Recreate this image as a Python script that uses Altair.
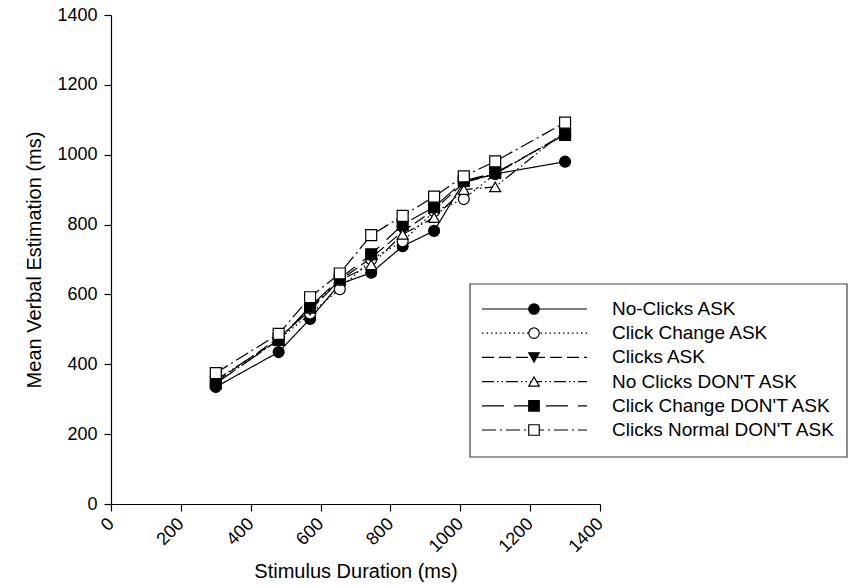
import altair as alt
import pandas as pd

# Stimulus durations (ms) shared by every condition
durations = [300, 480, 570, 655, 745, 835, 925, 1010, 1100, 1300]

series_names = [
    "No-Clicks ASK",
    "Click Change ASK",
    "Clicks ASK",
    "No Clicks DON'T ASK",
    "Click Change DON'T ASK",
    "Clicks Normal DON'T ASK",
]

# Mean verbal estimation (ms) per condition
no_clicks_ask = [335, 435, 530, 630, 662, 738, 782, 922, 945, 980]
click_change_ask = [345, 470, 545, 615, 700, 752, 838, 873, 945, 1060]
clicks_ask = [350, 475, 555, 640, 705, 780, 842, 920, 945, 1060]
no_clicks_dont_ask = [355, 470, 560, 640, 685, 772, 820, 900, 908, 1068]
click_change_dont_ask = [345, 470, 565, 645, 715, 800, 850, 925, 948, 1057]
clicks_normal_dont_ask = [375, 487, 592, 660, 770, 825, 880, 938, 981, 1092]

series_values = [
    no_clicks_ask,
    click_change_ask,
    clicks_ask,
    no_clicks_dont_ask,
    click_change_dont_ask,
    clicks_normal_dont_ask,
]

# Styling per condition
dashes = [[1, 0], [1.5, 3], [12, 5], [12, 3, 1.5, 3, 1.5, 3], [22, 10], [14, 4, 2, 4]]
shapes = ["circle", "circle", "triangle-down", "triangle-up", "square", "square"]
fills = ["black", "white", "black", "white", "black", "white"]

FONT = "Liberation Sans"
W = H = 489
XMAX = YMAX = 1400

rows = []
for name, vals in zip(series_names, series_values):
    for d, v in zip(durations, vals):
        rows.append({"series": name, "duration": d, "estimate": v})
df = pd.DataFrame(rows)

dash_scale = alt.Scale(domain=series_names, range=dashes)
shape_scale = alt.Scale(domain=series_names, range=shapes)
fill_scale = alt.Scale(domain=series_names, range=fills)

x_enc = alt.X(
    "duration:Q",
    scale=alt.Scale(domain=[0, XMAX], nice=False),
    axis=alt.Axis(
        title="Stimulus Duration (ms)",
        values=list(range(0, 1401, 200)),
        format="d",
        labelAngle=-45,
        labelAlign="right",
        labelBaseline="middle",
        labelPadding=10,
        titlePadding=6,
    ),
)
y_enc = alt.Y(
    "estimate:Q",
    scale=alt.Scale(domain=[0, YMAX], nice=False),
    axis=alt.Axis(
        title="Mean Verbal Estimation (ms)",
        values=list(range(0, 1401, 200)),
        format="d",
        labelPadding=7,
        titlePadding=12,
    ),
)

lines = alt.Chart(df).mark_line(color="black", strokeWidth=1.2).encode(
    x=x_enc,
    y=y_enc,
    detail="series:N",
    strokeDash=alt.StrokeDash("series:N", scale=dash_scale, legend=None),
)

points = alt.Chart(df).mark_point(
    stroke="black", strokeWidth=1.2, size=120, opacity=1, filled=False
).encode(
    x="duration:Q",
    y="estimate:Q",
    shape=alt.Shape("series:N", scale=shape_scale, legend=None),
    fill=alt.Fill("series:N", scale=fill_scale, legend=None),
)

# Hand-built legend box, laid out in pixels and converted to data units
def px_x(p):
    return (p - 111) / W * XMAX


def px_y(p):
    return (504 - p) / H * YMAX


box = pd.DataFrame(
    [{"x1": px_x(470), "x2": px_x(847), "y1": px_y(284), "y2": px_y(457)}]
)
legend_box = alt.Chart(box).mark_rect(
    fill="white", stroke="#404040", strokeWidth=1.2
).encode(x="x1:Q", x2="x2:Q", y="y1:Q", y2="y2:Q")

row_top = 309
row_step = 24.2
leg_rows = []
leg_lines = []
for i, name in enumerate(series_names):
    cy = px_y(row_top + i * row_step)
    leg_rows.append(
        {"series": name, "mx": px_x(534), "tx": px_x(612), "y": cy}
    )
    leg_lines.append({"series": name, "x": px_x(482), "y": cy})
    leg_lines.append({"series": name, "x": px_x(587), "y": cy})
leg_rows = pd.DataFrame(leg_rows)
leg_lines = pd.DataFrame(leg_lines)

legend_lines = alt.Chart(leg_lines).mark_line(color="black", strokeWidth=1.2).encode(
    x="x:Q",
    y="y:Q",
    detail="series:N",
    strokeDash=alt.StrokeDash("series:N", scale=dash_scale, legend=None),
)
legend_marks = alt.Chart(leg_rows).mark_point(
    stroke="black", strokeWidth=1.2, size=110, opacity=1
).encode(
    x="mx:Q",
    y="y:Q",
    shape=alt.Shape("series:N", scale=shape_scale, legend=None),
    fill=alt.Fill("series:N", scale=fill_scale, legend=None),
)
legend_text = alt.Chart(leg_rows).mark_text(
    align="left", baseline="middle", font=FONT, fontSize=19, color="black"
).encode(x="tx:Q", y="y:Q", text="series:N")

chart = (
    alt.layer(lines, points, legend_box, legend_lines, legend_marks, legend_text)
    .properties(
        width=W,
        height=H,
        autosize=alt.AutoSizeParams(type="none"),
        padding={"left": 111, "top": 15, "right": 249, "bottom": 82},
        background="white",
    )
    .configure_view(stroke=None)
    .configure_axis(
        domainColor="black",
        domainWidth=1.2,
        tickColor="black",
        tickWidth=1.2,
        tickSize=7,
        grid=False,
        labelFont=FONT,
        labelFontSize=18,
        labelColor="black",
        titleFont=FONT,
        titleFontSize=20,
        titleFontWeight="normal",
        titleColor="black",
    )
)

chart.save("out.html", embed_options={"renderer": "svg", "actions": False})
